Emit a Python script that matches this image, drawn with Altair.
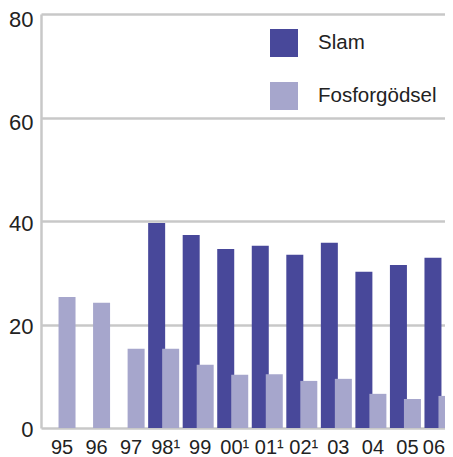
import altair as alt
import pandas as pd

years = ["95", "96", "97", "98¹", "99", "00¹", "01¹", "02¹", "03", "04", "05", "06"]
slam = [None, None, None, 39.6, 37.3, 34.6, 35.2, 33.5, 35.8, 30.2, 31.5, 32.9]
fosfor = [25.3, 24.2, 15.3, 15.3, 12.2, 10.3, 10.4, 9.1, 9.5, 6.6, 5.6, 6.2]
series_names = ["Slam", "Fosforgödsel"]
series_colors = ["#48489A", "#A6A6CC"]
y_ticks = [0, 20, 40, 60, 80]

rows = []
for yr, s, f in zip(years, slam, fosfor):
    if s is not None:
        rows.append({"year": yr, "series": "Slam", "value": s})
    rows.append({"year": yr, "series": "Fosforgödsel", "value": f})
df = pd.DataFrame(rows)

FONT = "Liberation Sans"
GRID = "#C8C8C8"
TEXT = "#222222"

x = alt.X(
    "year:N",
    sort=years,
    scale=alt.Scale(domain=years, paddingInner=0, paddingOuter=0.051),
    axis=alt.Axis(
        title=None, labelAngle=0, domain=False, ticks=False, grid=False,
        labelPadding=9, labelFontSize=20, labelColor=TEXT, labelFont=FONT,
        labelOffset=alt.expr("datum.label == '06' ? -6 : 2"),
    ),
)
y = alt.Y(
    "value:Q",
    scale=alt.Scale(domain=[0, 80]),
    axis=alt.Axis(
        title=None, values=y_ticks, ticks=False, domain=True,
        domainColor=GRID, domainWidth=2.5, grid=True, gridColor=GRID,
        gridWidth=2.5, labelPadding=8, labelFontSize=22, labelColor=TEXT,
        labelFont=FONT,
        labelOffset=alt.expr("datum.value >= 60 ? 5 : (datum.value == 40 ? 2.7 : 1.6)"),
    ),
)
color = alt.Color(
    "series:N",
    scale=alt.Scale(domain=series_names, range=series_colors),
    legend=alt.Legend(
        title=None, orient="none", legendX=229, legendY=15,
        symbolType="square", symbolSize=784, symbolStrokeWidth=0,
        symbolOpacity=1, labelFontSize=20.5, labelFont=FONT, labelColor=TEXT,
        labelOffset=20, rowPadding=25,
    ),
)

base = alt.Chart(df).encode(x=x, y=y, color=color)
slam_layer = base.transform_filter(alt.datum.series == "Slam").mark_bar(width=17, xOffset=-7)
fos_layer = base.transform_filter(alt.datum.series == "Fosforgödsel").mark_bar(width=17, xOffset=7)

chart = (
    alt.layer(slam_layer, fos_layer)
    .properties(
        width=418,
        height=414,
        autosize=alt.AutoSizeParams(type="none"),
        padding={"left": 33, "top": 6, "right": -14, "bottom": 29},
    )
    .configure_view(stroke=None)
)

chart.save("out.html", embed_options={"renderer": "svg", "actions": False})
